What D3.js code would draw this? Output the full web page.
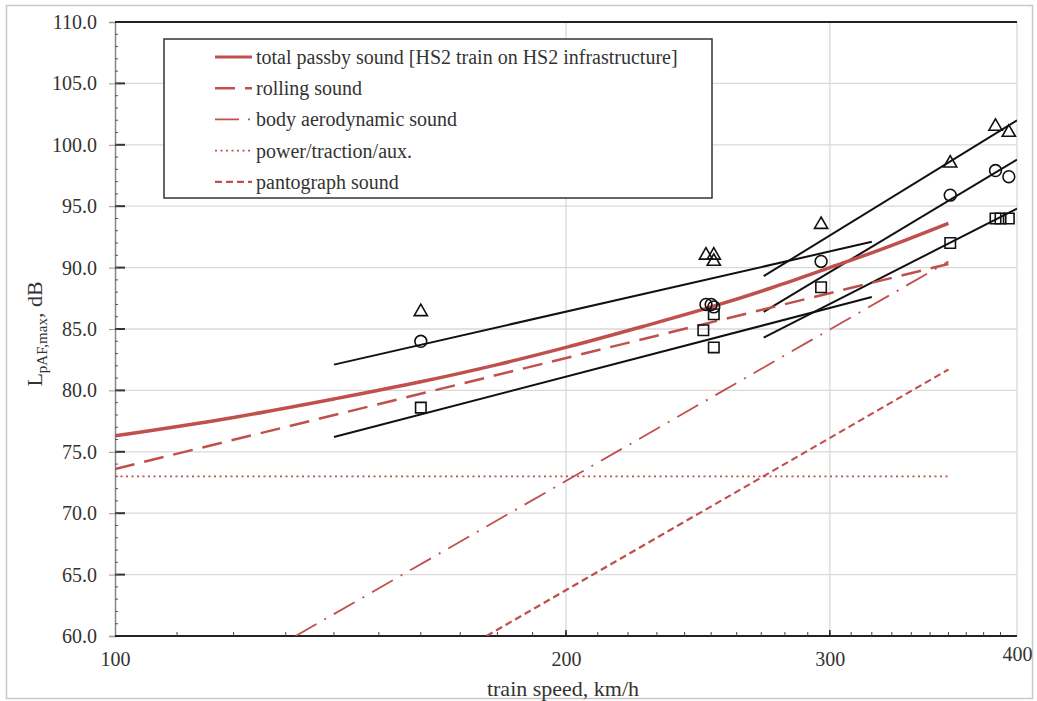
<!DOCTYPE html>
<html>
<head>
<meta charset="utf-8">
<script src="https://cdn.jsdelivr.net/npm/d3@7"></script>
<style>
  body { margin: 0; background: #fff; }
  svg text { font-family: "Liberation Serif", "DejaVu Serif", "Times New Roman", serif !important; fill: #333; }
</style>
</head>
<body>
<svg id="chart" width="1037" height="701"></svg>
<script>
// axis ticks
const speedTicks = [100, 200, 300, 400];
const levelTicks = [60, 65, 70, 75, 80, 85, 90, 95, 100, 105, 110];

// red prediction curves (speed km/h, level dB)
const totalSpeed = [100, 120, 140, 160, 180, 200, 225, 250, 275, 300, 325, 360];
const totalLevel = [76.3, 77.8, 79.3, 80.7, 82.1, 83.5, 85.2, 86.8, 88.4, 90.0, 91.5, 93.6];
const rollingSpeed = [100, 360];
const rollingLevel = [73.6, 90.3];
const aeroSpeed = [132, 360];
const aeroLevel = [60, 90.5];
const powerSpeed = [100, 360];
const powerLevel = [73, 73];
const pantoSpeed = [177, 360];
const pantoLevel = [60, 81.7];

// measured points
const triSpeed = [160, 248, 251, 251, 296, 361, 387, 395];
const triLevel = [86.4, 91.0, 91.0, 90.5, 93.5, 98.5, 101.5, 101.0];
const circSpeed = [160, 248, 250, 251, 296, 361, 387, 395];
const circLevel = [84.0, 87.0, 87.0, 86.8, 90.5, 95.9, 97.9, 97.4];
const sqSpeed = [160, 247, 251, 251, 296, 361, 387, 390, 395];
const sqLevel = [78.6, 84.9, 86.2, 83.5, 88.4, 92.0, 94.0, 94.0, 94.0];

// black regression lines
const fitLowSpeed = [140, 320];
const fitLowCirc = [82.1, 92.1];
const fitLowSq = [76.2, 87.6];
const fitHighSpeed = [271, 400];
const fitHighTri = [89.3, 102.0];
const fitHighCirc = [86.4, 98.8];
const fitHighSq = [84.3, 94.8];

const legendLabels = [
  "total passby sound [HS2 train on HS2 infrastructure]",
  "rolling sound",
  "body aerodynamic sound",
  "power/traction/aux.",
  "pantograph sound"
];

const red = "#c0504d";
const serif = "Liberation Serif, DejaVu Serif, serif";
const svg = d3.select("#chart");

// outer frame
svg.append("rect").attr("x", 6.5).attr("y", 5.5).attr("width", 1026).attr("height", 693)
  .attr("fill", "none").attr("stroke", "#c8c8c8").attr("stroke-width", 1.5);

const x = d3.scaleLog().domain([100, 400]).range([115, 1017]);
const y = d3.scaleLinear().domain([60, 110]).range([636, 22]);

svg.append("clipPath").attr("id", "plot-clip")
  .append("rect").attr("x", 115).attr("y", 22).attr("width", 902).attr("height", 614);

// grid
const grid = svg.append("g");
grid.selectAll(".hgrid").data(levelTicks.slice(1, -1)).join("line")
  .attr("x1", 115).attr("x2", 1017)
  .attr("y1", d => y(d)).attr("y2", d => y(d))
  .attr("stroke", "#d9d9d9").attr("stroke-width", 1.3);
grid.selectAll(".vgrid").data(speedTicks.slice(1)).join("line")
  .attr("x1", d => x(d)).attr("x2", d => x(d))
  .attr("y1", 22).attr("y2", 636)
  .attr("stroke", "#d9d9d9").attr("stroke-width", 1.3);

// left axis
const yAxis = d3.axisLeft(y).tickValues(levelTicks).tickFormat(d3.format(".1f")).tickSize(6).tickPadding(12);
const gy = svg.append("g").attr("transform", "translate(115,0)").call(yAxis)
  .attr("font-family", serif);
gy.select(".domain").attr("stroke", "#888").attr("stroke-width", 1.5);
gy.selectAll(".tick line").attr("stroke", "#999");
gy.selectAll(".tick text").attr("font-size", 20).attr("fill", "#333");
// inner major tick marks
svg.append("g").selectAll("line").data(levelTicks.slice(1, -1)).join("line")
  .attr("x1", 115).attr("x2", 125).attr("y1", d => y(d)).attr("y2", d => y(d))
  .attr("stroke", "#333").attr("stroke-width", 2);
// minor ticks
svg.append("g").selectAll("line").data(d3.range(60, 110, 1)).join("line")
  .attr("x1", 115).attr("x2", 118).attr("y1", d => y(d)).attr("y2", d => y(d))
  .attr("stroke", "#555").attr("stroke-width", 1);

// bottom axis
const xAxis = d3.axisBottom(x).tickValues(speedTicks).tickFormat(d3.format("d")).tickSize(0).tickPadding(16);
const gx = svg.append("g").attr("transform", "translate(0,636)").call(xAxis)
  .attr("font-family", serif);
gx.select(".domain").remove();
gx.selectAll(".tick text").attr("font-size", 20).attr("fill", "#333");
gx.selectAll(".tick").filter(d => d === 400).select("text").attr("dy", "0.45em");
svg.append("line").attr("x1", 115).attr("x2", 1017).attr("y1", 636).attr("y2", 636)
  .attr("stroke", "#222").attr("stroke-width", 2);
svg.append("g").selectAll("line").data(d3.range(110, 400, 10)).join("line")
  .attr("x1", d => x(d)).attr("x2", d => x(d)).attr("y1", 636).attr("y2", 632)
  .attr("stroke", "#444").attr("stroke-width", 1);
svg.append("g").selectAll("line").data([200, 300]).join("line")
  .attr("x1", d => x(d)).attr("x2", d => x(d)).attr("y1", 636).attr("y2", 630)
  .attr("stroke", "#222").attr("stroke-width", 1.5);

// top border
svg.append("line").attr("x1", 115).attr("x2", 1017).attr("y1", 22).attr("y2", 22)
  .attr("stroke", "#222").attr("stroke-width", 2);

// axis titles
svg.append("text").attr("x", 563).attr("y", 696).attr("text-anchor", "middle")
  .attr("font-family", serif).attr("font-size", 22).text("train speed,  km/h");
const yl = svg.append("text").attr("transform", "translate(42,334) rotate(-90)")
  .attr("text-anchor", "middle").attr("font-family", serif).attr("font-size", 22);
yl.append("tspan").text("L");
yl.append("tspan").attr("font-size", 15).attr("dy", 5).text("pAF,max");
yl.append("tspan").attr("dy", -5).text(", dB");

// plot content
const plot = svg.append("g").attr("clip-path", "url(#plot-clip)");
const line = d3.line().x(d => x(d[0])).y(d => y(d[1]));
const lineCurve = d3.line().x(d => x(d[0])).y(d => y(d[1])).curve(d3.curveMonotoneX);
const zip = (a, b) => a.map((v, i) => [v, b[i]]);

const fits = [
  [fitLowSpeed, fitLowCirc], [fitLowSpeed, fitLowSq],
  [fitHighSpeed, fitHighTri], [fitHighSpeed, fitHighCirc], [fitHighSpeed, fitHighSq]
];
plot.selectAll(".fit").data(fits).join("path")
  .attr("d", d => line(zip(d[0], d[1])))
  .attr("fill", "none").attr("stroke", "#111").attr("stroke-width", 2);

const styles = [
  {w: 3.5, dash: null},
  {w: 2.5, dash: "20,10"},
  {w: 1.8, dash: "24,9,2,9"},
  {w: 1.8, dash: "2,3.5"},
  {w: 2.2, dash: "7,4"}
];
const redSeries = [
  lineCurve(zip(totalSpeed, totalLevel)),
  line(zip(rollingSpeed, rollingLevel)),
  line(zip(aeroSpeed, aeroLevel)),
  line(zip(powerSpeed, powerLevel)),
  line(zip(pantoSpeed, pantoLevel))
];
plot.selectAll(".red").data(redSeries).join("path")
  .attr("d", d => d).attr("fill", "none").attr("stroke", red)
  .attr("stroke-width", (d, i) => styles[i].w)
  .attr("stroke-dasharray", (d, i) => styles[i].dash);

function markers(speeds, levels, type, size) {
  plot.append("g").selectAll("path").data(zip(speeds, levels)).join("path")
    .attr("transform", d => `translate(${x(d[0])},${y(d[1])})`)
    .attr("d", d3.symbol().type(type).size(size))
    .attr("fill", "none").attr("stroke", "#111").attr("stroke-width", 1.6);
}
markers(triSpeed, triLevel, d3.symbolTriangle, 75);
markers(circSpeed, circLevel, d3.symbolCircle, 110);
markers(sqSpeed, sqLevel, d3.symbolSquare, 110);

// legend
const lg = svg.append("g");
lg.append("rect").attr("x", 164).attr("y", 39).attr("width", 548).attr("height", 159)
  .attr("fill", "#fff").attr("stroke", "#333").attr("stroke-width", 1.5);
const rows = lg.selectAll(".row").data(legendLabels).join("g")
  .attr("transform", (d, i) => `translate(0,${57 + i * 31.2})`);
rows.append("line").attr("x1", 215).attr("x2", 252).attr("y1", 0).attr("y2", 0)
  .attr("stroke", red)
  .attr("stroke-width", (d, i) => Math.min(styles[i].w, 3))
  .attr("stroke-dasharray", (d, i) => styles[i].dash);
rows.append("text").attr("x", 256).attr("y", 0).attr("dy", "0.35em")
  .attr("font-family", serif).attr("font-size", 20).text(d => d);
</script>
</body>
</html>
